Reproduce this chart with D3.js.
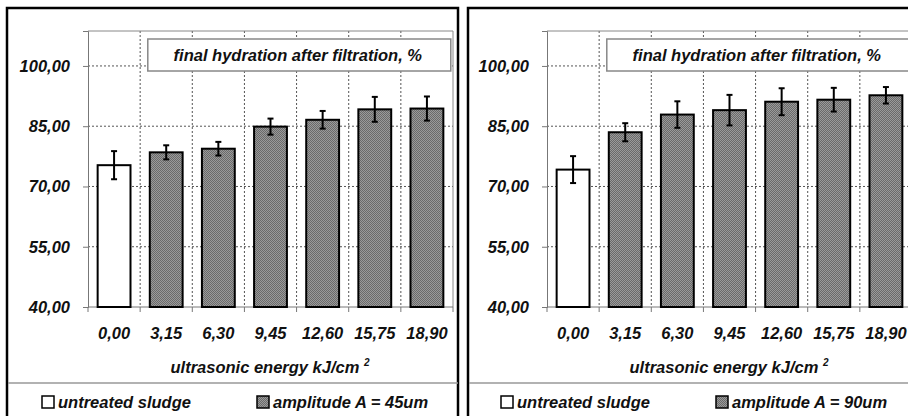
<!DOCTYPE html>
<head>
<meta charset="utf-8">
<script src="https://d3js.org/d3.v7.min.js"></script>
</head>
<style>
body { margin: 0; background: #fff; }
text { font-family: "Liberation Sans", Arial, sans-serif; font-weight: bold; font-style: italic; fill: #111; }
.grid line { stroke: #555; stroke-dasharray: 2,2; stroke-width: 1px; }
</style>
<body>
<script>
var energy = ["0,00", "3,15", "6,30", "9,45", "12,60", "15,75", "18,90"];
var yTicks = [40, 55, 70, 85, 100];
var hydration45 = [75.3, 78.5, 79.4, 84.9, 86.6, 89.2, 89.4];
var error45 = [3.5, 1.75, 1.7, 2.0, 2.2, 3.1, 3.0];
var hydration90 = [74.2, 83.5, 87.9, 89.0, 91.1, 91.6, 92.7];
var error90 = [3.35, 2.25, 3.3, 3.8, 3.35, 2.95, 2.05];
var legendLabels = ["untreated sludge", "amplitude A = 45um", "amplitude A = 90um"];
var chartTitle = "final hydration after filtration, %";

var fs = "16.5px";

var svg = d3.select("body").append("svg")
    .attr("width", 908)
    .attr("height", 416);

// checker pattern for the treated bars
var pat = svg.append("defs").append("pattern")
    .attr("id", "checker")
    .attr("width", 2).attr("height", 2)
    .attr("patternUnits", "userSpaceOnUse");
pat.append("rect").attr("width", 2).attr("height", 2).attr("fill", "#9a9a9a");
pat.append("rect").attr("width", 1).attr("height", 1).attr("fill", "#6a6a6a");
pat.append("rect").attr("x", 1).attr("y", 1).attr("width", 1).attr("height", 1).attr("fill", "#6a6a6a");

var y = d3.scaleLinear().domain([40, 108.7]).range([307, 31]);

function drawPanel(ox, axisX, values, errors, ampLabel) {
  var g = svg.append("g").attr("transform", "translate(" + ox + ",0)");

  // outer frame
  g.append("rect")
      .attr("x", 7).attr("y", 8)
      .attr("width", 451).attr("height", 420)
      .attr("fill", "#fff")
      .attr("stroke", "#000").attr("stroke-width", 2.5);

  var x = d3.scaleBand().domain(energy)
      .range([axisX, axisX + 365])
      .paddingInner(0.37).paddingOuter(0.185);

  var bandStep = x.step();

  // horizontal grid
  g.append("g").attr("class", "grid")
    .selectAll("line").data(yTicks.slice(1)).enter().append("line")
      .attr("x1", axisX).attr("x2", axisX + 365)
      .attr("y1", function(d) { return y(d); })
      .attr("y2", function(d) { return y(d); });

  // vertical grid at category boundaries
  g.append("g").attr("class", "grid")
    .selectAll("line").data(energy.slice(1)).enter().append("line")
      .attr("x1", function(d) { return x(d) - (bandStep - x.bandwidth()) / 2; })
      .attr("x2", function(d) { return x(d) - (bandStep - x.bandwidth()) / 2; })
      .attr("y1", y.range()[1]).attr("y2", y(40));

  // plot area border top & right
  g.append("path")
      .attr("d", "M" + axisX + "," + y.range()[1] + "H" + (axisX + 365) + "V" + y(40))
      .attr("fill", "none").attr("stroke", "#888").attr("stroke-width", 1);

  // y axis
  var yAxis = d3.axisLeft(y).tickValues(yTicks).tickSize(5).tickPadding(13)
      .tickFormat(function(d) { return d3.format(".2f")(d).replace(".", ","); });
  var ya = g.append("g").attr("transform", "translate(" + axisX + ",0)").call(yAxis);
  ya.selectAll("path, line").attr("stroke", "#777");
  ya.selectAll("text").style("font-size", fs).attr("fill", "#111");

  // x axis
  var xAxis = d3.axisBottom(x).tickSize(0).tickPadding(20);
  var xa = g.append("g").attr("transform", "translate(0," + y(40) + ")").call(xAxis);
  xa.select("path").attr("stroke", "#777").attr("d", "M" + axisX + ",0H" + (axisX + 365));
  xa.selectAll("text").style("font-size", fs).attr("fill", "#111");
  g.append("g").selectAll("line").data(energy.concat(["end"])).enter().append("line")
      .attr("x1", function(d, i) { return axisX + i * bandStep; })
      .attr("x2", function(d, i) { return axisX + i * bandStep; })
      .attr("y1", y(40)).attr("y2", y(40) + 5)
      .attr("stroke", "#777");

  // bars
  g.append("g").selectAll("rect").data(values).enter().append("rect")
      .attr("x", function(d, i) { return x(energy[i]); })
      .attr("width", x.bandwidth())
      .attr("y", function(d) { return y(d); })
      .attr("height", function(d) { return y(40) - y(d); })
      .attr("fill", function(d, i) { return i === 0 ? "#fff" : "url(#checker)"; })
      .attr("stroke", "#000").attr("stroke-width", 2);

  // error bars
  var eb = g.append("g").selectAll("g").data(values).enter().append("g")
      .attr("stroke", "#000").attr("stroke-width", 2);
  eb.append("line")
      .attr("x1", function(d, i) { return x(energy[i]) + x.bandwidth() / 2; })
      .attr("x2", function(d, i) { return x(energy[i]) + x.bandwidth() / 2; })
      .attr("y1", function(d, i) { return y(d + errors[i]); })
      .attr("y2", function(d, i) { return y(d - errors[i]); });
  [1, -1].forEach(function(s) {
    eb.append("line")
        .attr("x1", function(d, i) { return x(energy[i]) + x.bandwidth() / 2 - 3; })
        .attr("x2", function(d, i) { return x(energy[i]) + x.bandwidth() / 2 + 3; })
        .attr("y1", function(d, i) { return y(d + s * errors[i]); })
        .attr("y2", function(d, i) { return y(d + s * errors[i]); });
  });

  // title box
  var tx = x(energy[1]) - 2;
  g.append("rect")
      .attr("x", tx).attr("y", 39)
      .attr("width", 303).attr("height", 32)
      .attr("fill", "#fff").attr("stroke", "#888").attr("stroke-width", 1.5);
  g.append("text")
      .attr("x", tx + 150).attr("y", 61)
      .attr("text-anchor", "middle")
      .style("font-size", fs)
      .text(chartTitle);

  // x axis title
  var xt = g.append("text")
      .attr("x", axisX + 182).attr("y", 373)
      .attr("text-anchor", "middle")
      .style("font-size", fs);
  xt.append("tspan").text("ultrasonic energy kJ/cm ");
  xt.append("tspan").attr("dy", -7).style("font-size", "10px").text("2");

  // legend
  g.append("line")
      .attr("x1", 8).attr("x2", 458)
      .attr("y1", 383).attr("y2", 383)
      .attr("stroke", "#999").attr("stroke-width", 1.5);

  var leg = [
    { label: legendLabels[0], fill: "#fff", x: axisX - 46 },
    { label: ampLabel, fill: "url(#checker)", x: axisX + 169 }
  ];
  var li = g.append("g").selectAll("g").data(leg).enter().append("g")
      .attr("transform", function(d) { return "translate(" + d.x + ",396)"; });
  li.append("rect")
      .attr("width", 12).attr("height", 12)
      .attr("fill", function(d) { return d.fill; })
      .attr("stroke", "#000").attr("stroke-width", 1.5);
  li.append("text")
      .attr("x", 16).attr("y", 12)
      .style("font-size", fs)
      .text(function(d) { return d.label; });
}

drawPanel(0, 88, hydration45, error45, legendLabels[1]);
drawPanel(461, 86, hydration90, error90, legendLabels[2]);
</script>
</body>
